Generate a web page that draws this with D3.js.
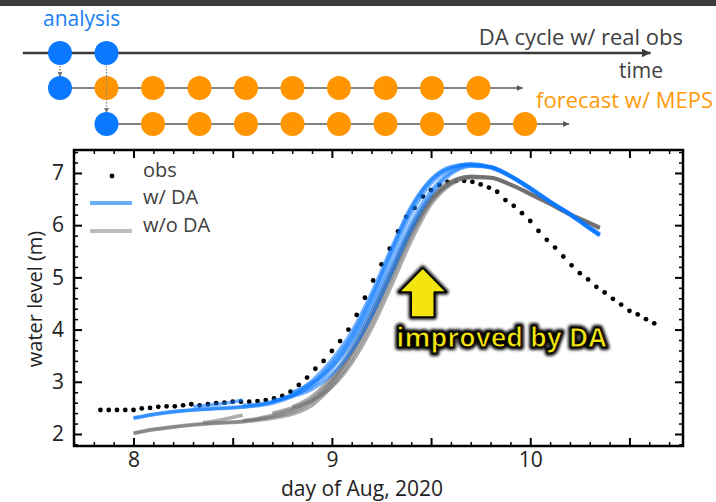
<!DOCTYPE html>
<html>
<head>
<meta charset="utf-8">
<script src="https://cdn.jsdelivr.net/npm/d3@7"></script>
<style>
  body { margin: 0; background: #fff; }
  svg { display: block; font-family: "Open Sans", sans-serif; }
</style>
</head>
<body>
<svg id="chart" width="716" height="502"></svg>
<script>
// hourly water level obs (m), first one at day 7.8333 of Aug
const obsStart = 7.8333;
const obsLevel = [
  2.46, 2.46, 2.46, 2.46, 2.46, 2.49, 2.50, 2.52, 2.53, 2.53, 2.55, 2.57,
  2.55, 2.57, 2.59, 2.60, 2.62, 2.62, 2.62, 2.63, 2.65, 2.68, 2.73, 2.81,
  2.94, 3.08, 3.25, 3.40, 3.59, 3.78, 4.00, 4.28, 4.61, 4.94, 5.25, 5.55,
  5.88, 6.16, 6.33, 6.55, 6.67, 6.77, 6.83, 6.85, 6.85, 6.83, 6.78, 6.72,
  6.64, 6.48, 6.37, 6.23, 6.08, 5.89, 5.72, 5.57, 5.40, 5.23, 5.08, 4.96,
  4.82, 4.71, 4.59, 4.48, 4.36, 4.29, 4.20, 4.12
];

// forecast runs w/ DA  [day, level]
const runsDA = [
  [[8.0,2.30],[8.1,2.37],[8.2,2.42],[8.3,2.46],[8.4,2.48],[8.5,2.50],[8.6,2.53],[8.7,2.59],[8.8,2.72],[8.9,2.96],[9.0,3.35],[9.1,3.88],[9.2,4.62],[9.3,5.50],[9.4,6.32],[9.5,6.86],[9.6,7.10],[9.7,7.16],[9.8,7.10],[9.9,6.93],[10.0,6.69],[10.1,6.44],[10.2,6.20],[10.3,5.93],[10.35,5.80]],
  [[8.0,2.31],[8.1,2.38],[8.2,2.43],[8.3,2.46],[8.4,2.49],[8.5,2.51],[8.6,2.54],[8.7,2.61],[8.8,2.76],[8.9,3.02],[9.0,3.42],[9.1,3.96],[9.2,4.70],[9.3,5.56],[9.4,6.36],[9.5,6.88],[9.6,7.12],[9.7,7.17],[9.8,7.11],[9.9,6.94],[10.0,6.70],[10.1,6.45],[10.2,6.21],[10.3,5.94],[10.35,5.82]],
  [[8.3,2.52],[8.4,2.56],[8.5,2.61],[8.55,2.65]],
  [[8.55,2.55],[8.6,2.56],[8.7,2.62],[8.8,2.74],[8.9,2.92],[9.0,3.25],[9.1,3.74],[9.2,4.42],[9.3,5.24],[9.4,6.05],[9.5,6.66],[9.6,7.02],[9.7,7.14],[9.8,7.11],[9.9,6.94],[10.0,6.71],[10.1,6.45],[10.2,6.22],[10.3,5.96],[10.35,5.83]],
  [[8.7,2.64],[8.8,2.72],[8.9,2.86],[9.0,3.14],[9.1,3.60],[9.2,4.26],[9.3,5.08],[9.4,5.92],[9.5,6.58],[9.6,6.98],[9.7,7.13],[9.8,7.12],[9.9,6.95],[10.0,6.72],[10.1,6.46],[10.2,6.22],[10.3,5.95],[10.35,5.82]],
  [[8.8,2.80],[8.9,2.98],[9.0,3.30],[9.1,3.82],[9.2,4.54],[9.3,5.40],[9.4,6.22],[9.5,6.80],[9.6,7.08],[9.7,7.17],[9.8,7.12],[9.9,6.94],[10.0,6.70],[10.1,6.44],[10.2,6.20],[10.3,5.93],[10.35,5.80]]
];

// forecast runs w/o DA
const runsNoDA = [
  [[8.0,2.01],[8.1,2.08],[8.2,2.13],[8.3,2.17],[8.4,2.20],[8.5,2.22],[8.6,2.25],[8.7,2.30],[8.8,2.38],[8.9,2.55],[9.0,2.92],[9.1,3.45],[9.2,4.15],[9.3,4.98],[9.4,5.82],[9.5,6.46],[9.6,6.80],[9.7,6.92],[9.8,6.91],[9.9,6.78],[10.0,6.60],[10.1,6.41],[10.2,6.21],[10.3,6.04],[10.35,5.95]],
  [[8.0,2.02],[8.1,2.09],[8.2,2.14],[8.3,2.18],[8.4,2.21],[8.5,2.23],[8.6,2.27],[8.7,2.33],[8.8,2.43],[8.9,2.62],[9.0,3.00],[9.1,3.55],[9.2,4.26],[9.3,5.08],[9.4,5.90],[9.5,6.50],[9.6,6.82],[9.7,6.93],[9.8,6.91],[9.9,6.77],[10.0,6.59],[10.1,6.40],[10.2,6.20],[10.3,6.03],[10.35,5.94]],
  [[8.35,2.22],[8.45,2.28],[8.55,2.36]],
  [[8.55,2.26],[8.6,2.28],[8.7,2.36],[8.8,2.47],[8.9,2.66],[9.0,3.02],[9.1,3.56],[9.2,4.24],[9.3,5.05],[9.4,5.86],[9.5,6.48],[9.6,6.81],[9.7,6.93],[9.8,6.92],[9.9,6.78],[10.0,6.60],[10.1,6.41],[10.2,6.21],[10.3,6.04],[10.35,5.96]],
  [[8.7,2.40],[8.8,2.50],[8.9,2.64],[9.0,2.90],[9.1,3.36],[9.2,4.02],[9.3,4.84],[9.4,5.70],[9.5,6.40],[9.6,6.78],[9.7,6.91],[9.8,6.91],[9.9,6.78],[10.0,6.61],[10.1,6.42],[10.2,6.22],[10.3,6.05],[10.35,5.96]],
  [[8.8,2.52],[8.9,2.72],[9.0,3.10],[9.1,3.64],[9.2,4.34],[9.3,5.15],[9.4,5.96],[9.5,6.54],[9.6,6.84],[9.7,6.93],[9.8,6.91],[9.9,6.77],[10.0,6.59],[10.1,6.40],[10.2,6.20],[10.3,6.03],[10.35,5.94]]
];

const xMajor = [8, 8.5, 9, 9.5, 10, 10.5];
const xLabels = [8, 9, 10];
const yMajor = [2, 3, 4, 5, 6, 7];
const legendNames = ['obs', 'w/ DA', 'w/o DA'];

// schematic: steps of the DA cycle
const analysisSteps = [0, 1];
const run1Analysis = [0];
const run1Fcst = [1, 2, 3, 4, 5, 6, 7, 8, 9];
const run2Analysis = [1];
const run2Fcst = [2, 3, 4, 5, 6, 7, 8, 9, 10];

const BLUE = '#0a78ff';
const ORANGE = '#ff9500';
const GRAY = '#6e6e6e';

const svg = d3.select('svg#chart');
const defs = svg.append('defs');

const addMarker = (id, size, color) => {
  defs.append('marker')
    .attr('id', id)
    .attr('viewBox', '0 0 10 10')
    .attr('refX', 10).attr('refY', 5)
    .attr('markerUnits', 'userSpaceOnUse')
    .attr('markerWidth', size).attr('markerHeight', size)
    .attr('orient', 'auto')
    .append('path').attr('d', 'M0,0L10,5L0,10z').attr('fill', color);
};
addMarker('headBig', 9, '#3a3a3a');
addMarker('headSmall', 6, '#555');
addMarker('headDot', 5, '#777');

defs.append('filter').attr('id', 'blur')
  .attr('x', '-20%').attr('y', '-40%').attr('width', '140%').attr('height', '180%')
  .append('feGaussianBlur').attr('stdDeviation', 1.6);

defs.append('clipPath').attr('id', 'plotClip')
  .append('rect').attr('x', 74).attr('y', 150).attr('width', 609).attr('height', 296);

// dark strip on top
svg.append('rect').attr('x', 0).attr('y', 0).attr('width', 716).attr('height', 6).attr('fill', '#3c3c3c');

// ---------- schematic ----------
const sx = d3.scaleLinear().domain([0, 1]).range([60, 106.5]);
const rowY = [53, 88, 124];
const sch = svg.append('g');

sch.append('line')
  .attr('x1', sx(-0.8)).attr('x2', sx(12.7))
  .attr('y1', rowY[0]).attr('y2', rowY[0])
  .attr('stroke', '#3a3a3a').attr('stroke-width', 2.5)
  .attr('marker-end', 'url(#headBig)');

[[run1Analysis, run1Fcst, rowY[1]], [run2Analysis, run2Fcst, rowY[2]]].forEach(([a, f, y]) => {
  sch.append('line')
    .attr('x1', sx(a[0])).attr('x2', sx(f[f.length - 1] + 0.95))
    .attr('y1', y).attr('y2', y)
    .attr('stroke', '#5a5a5a').attr('stroke-width', 1.6)
    .attr('marker-end', 'url(#headSmall)');
});

// dotted links from analysis to forecast start
analysisSteps.forEach((s, i) => {
  const yEnd = rowY[i + 1] - 11;
  sch.append('line')
    .attr('x1', sx(s)).attr('x2', sx(s))
    .attr('y1', rowY[0] + 13).attr('y2', yEnd)
    .attr('stroke', '#888').attr('stroke-width', 1.3)
    .attr('stroke-dasharray', '1.5,1.5')
    .attr('marker-end', 'url(#headDot)');
});

const dotRow = (steps, y, color) => {
  sch.selectAll(null).data(steps).enter().append('circle')
    .attr('cx', d => sx(d)).attr('cy', y).attr('r', 12)
    .attr('fill', color);
};
dotRow(run1Fcst, rowY[1], ORANGE);
dotRow(run2Fcst, rowY[2], ORANGE);
dotRow(analysisSteps, rowY[0], BLUE);
dotRow(run1Analysis, rowY[1], BLUE);
dotRow(run2Analysis, rowY[2], BLUE);
// redraw the dotted link over the orange circle
sch.append('line')
  .attr('x1', sx(1)).attr('x2', sx(1))
  .attr('y1', rowY[1] - 12).attr('y2', rowY[1] + 12)
  .attr('stroke', '#888').attr('stroke-width', 1.3)
  .attr('stroke-dasharray', '1.5,1.5');

sch.append('text').attr('x', 43).attr('y', 26)
  .attr('font-size', 21).attr('fill', '#1a7ff5').text('analysis');
sch.append('text').attr('x', 683).attr('y', 45).attr('text-anchor', 'end')
  .attr('font-size', 22).attr('fill', '#404040').text('DA cycle w/ real obs');
sch.append('text').attr('x', 641).attr('y', 78).attr('text-anchor', 'middle')
  .attr('font-size', 21).attr('fill', '#404040').text('time');
sch.append('text').attr('x', 713).attr('y', 108).attr('text-anchor', 'end')
  .attr('font-size', 22).attr('fill', '#ff9a0a').text('forecast w/ MEPS');

// ---------- chart ----------
const x = d3.scaleLinear().domain([7.7, 10.77]).range([74, 683]);
const y = d3.scaleLinear().domain([1.77, 7.44]).range([446, 150]);

const xMinor = d3.range(7.7, 10.75, 0.1).map(v => +v.toFixed(2)).filter(v => !xMajor.includes(v));
const yMinor = d3.range(1.8, 7.41, 0.2).map(v => +v.toFixed(2)).filter(v => !yMajor.includes(v));

const axes = svg.append('g');
const drawAxis = (axis, tx, ty) => {
  const g = axes.append('g').attr('transform', `translate(${tx},${ty})`).call(axis);
  g.select('.domain').remove();
  g.selectAll('line').attr('stroke', '#000');
  return g;
};

[['bottom', 446], ['top', 150]].forEach(([side, ty]) => {
  const make = side === 'bottom' ? d3.axisBottom : d3.axisTop;
  drawAxis(make(x).tickValues(xMinor).tickSize(-4).tickFormat(() => ''), 0, ty)
    .selectAll('line').attr('stroke-width', 1.5);
  const g = drawAxis(make(x).tickValues(xMajor).tickSize(-8).tickPadding(6)
    .tickFormat(d => side === 'bottom' && xLabels.includes(d) ? d : ''), 0, ty);
  g.selectAll('line').attr('stroke-width', 2);
  g.selectAll('text').attr('font-size', 21).attr('fill', '#222').attr('font-family', '"Open Sans", sans-serif');
});
[['left', 74], ['right', 683]].forEach(([side, tx]) => {
  const make = side === 'left' ? d3.axisLeft : d3.axisRight;
  drawAxis(make(y).tickValues(yMinor).tickSize(-4).tickFormat(() => ''), tx, 0)
    .selectAll('line').attr('stroke-width', 1.5);
  const g = drawAxis(make(y).tickValues(yMajor).tickSize(-8).tickPadding(10)
    .tickFormat(d => side === 'left' ? d : ''), tx, 0);
  g.selectAll('line').attr('stroke-width', 2);
  g.selectAll('text').attr('font-size', 21).attr('fill', '#222').attr('font-family', '"Open Sans", sans-serif');
});

axes.append('rect')
  .attr('x', 74).attr('y', 150).attr('width', 609).attr('height', 296)
  .attr('fill', 'none').attr('stroke', '#000').attr('stroke-width', 2.5);

svg.append('text')
  .attr('x', 362).attr('y', 496).attr('text-anchor', 'middle')
  .attr('font-size', 21).attr('fill', '#222').text('day of Aug, 2020');
svg.append('text')
  .attr('transform', 'translate(42,299) rotate(-90)').attr('text-anchor', 'middle')
  .attr('font-size', 20).attr('fill', '#222').text('water level (m)');

const plot = svg.append('g').attr('clip-path', 'url(#plotClip)');

plot.selectAll('circle.obs').data(obsLevel).enter().append('circle')
  .attr('class', 'obs')
  .attr('cx', (d, i) => x(obsStart + i / 24))
  .attr('cy', d => y(d))
  .attr('r', 2.4)
  .attr('fill', '#000');

const line = d3.line()
  .x(d => x(d[0]))
  .y(d => y(d[1]))
  .curve(d3.curveMonotoneX);

[[runsNoDA, GRAY], [runsDA, BLUE]].forEach(([runs, color]) => {
  plot.append('g').selectAll('path').data(runs).enter().append('path')
    .attr('d', line)
    .attr('fill', 'none')
    .attr('stroke', color)
    .attr('stroke-opacity', 0.58)
    .attr('stroke-width', 3.5);
});

// legend
const legend = svg.append('g');
const legendY = [176, 203, 231];
legend.append('circle').attr('cx', 112).attr('cy', legendY[0]).attr('r', 2.4).attr('fill', '#000');
legend.append('line').attr('x1', 90).attr('x2', 132).attr('y1', legendY[1]).attr('y2', legendY[1])
  .attr('stroke', '#6aaef8').attr('stroke-width', 4);
legend.append('line').attr('x1', 90).attr('x2', 132).attr('y1', legendY[2]).attr('y2', legendY[2])
  .attr('stroke', '#bdbdbd').attr('stroke-width', 4);
legend.selectAll('text').data(legendNames).enter().append('text')
  .attr('x', 143).attr('y', (d, i) => legendY[i] + 1)
  .attr('font-size', 20).attr('fill', '#404040')
  .text(d => d);

// annotation: arrow + label
const arrowDay = 9.458, arrowTip = 5.18, arrowBase = 4.24;
const ax = x(arrowDay), tipY = y(arrowTip), baseY = y(arrowBase);
const headY = tipY + 24;
const arrowPath = `M${ax},${tipY}L${ax + 23.5},${headY}L${ax + 11.5},${headY}L${ax + 11.5},${baseY}` +
  `L${ax - 11.5},${baseY}L${ax - 11.5},${headY}L${ax - 23.5},${headY}Z`;
const ann = svg.append('g');
ann.append('path').attr('d', arrowPath)
  .attr('fill', '#000').attr('stroke', '#000').attr('stroke-width', 5)
  .attr('stroke-linejoin', 'round').attr('filter', 'url(#blur)');
ann.append('path').attr('d', arrowPath)
  .attr('fill', '#f5e50f').attr('stroke', '#000').attr('stroke-width', 1.5)
  .attr('stroke-linejoin', 'round');

const labelX = x(9.855), labelY = y(3.67);
const label = (sel) => sel.attr('x', labelX).attr('y', labelY)
  .attr('text-anchor', 'middle').attr('font-size', 26.5).attr('font-weight', 700)
  .text('improved by DA');
ann.append('text').call(label)
  .attr('fill', '#000').attr('stroke', '#000').attr('stroke-width', 6)
  .attr('stroke-linejoin', 'round').attr('filter', 'url(#blur)');
ann.append('text').call(label)
  .attr('fill', '#f5e50f').attr('stroke', '#000').attr('stroke-width', 1);
</script>
</body>
</html>
